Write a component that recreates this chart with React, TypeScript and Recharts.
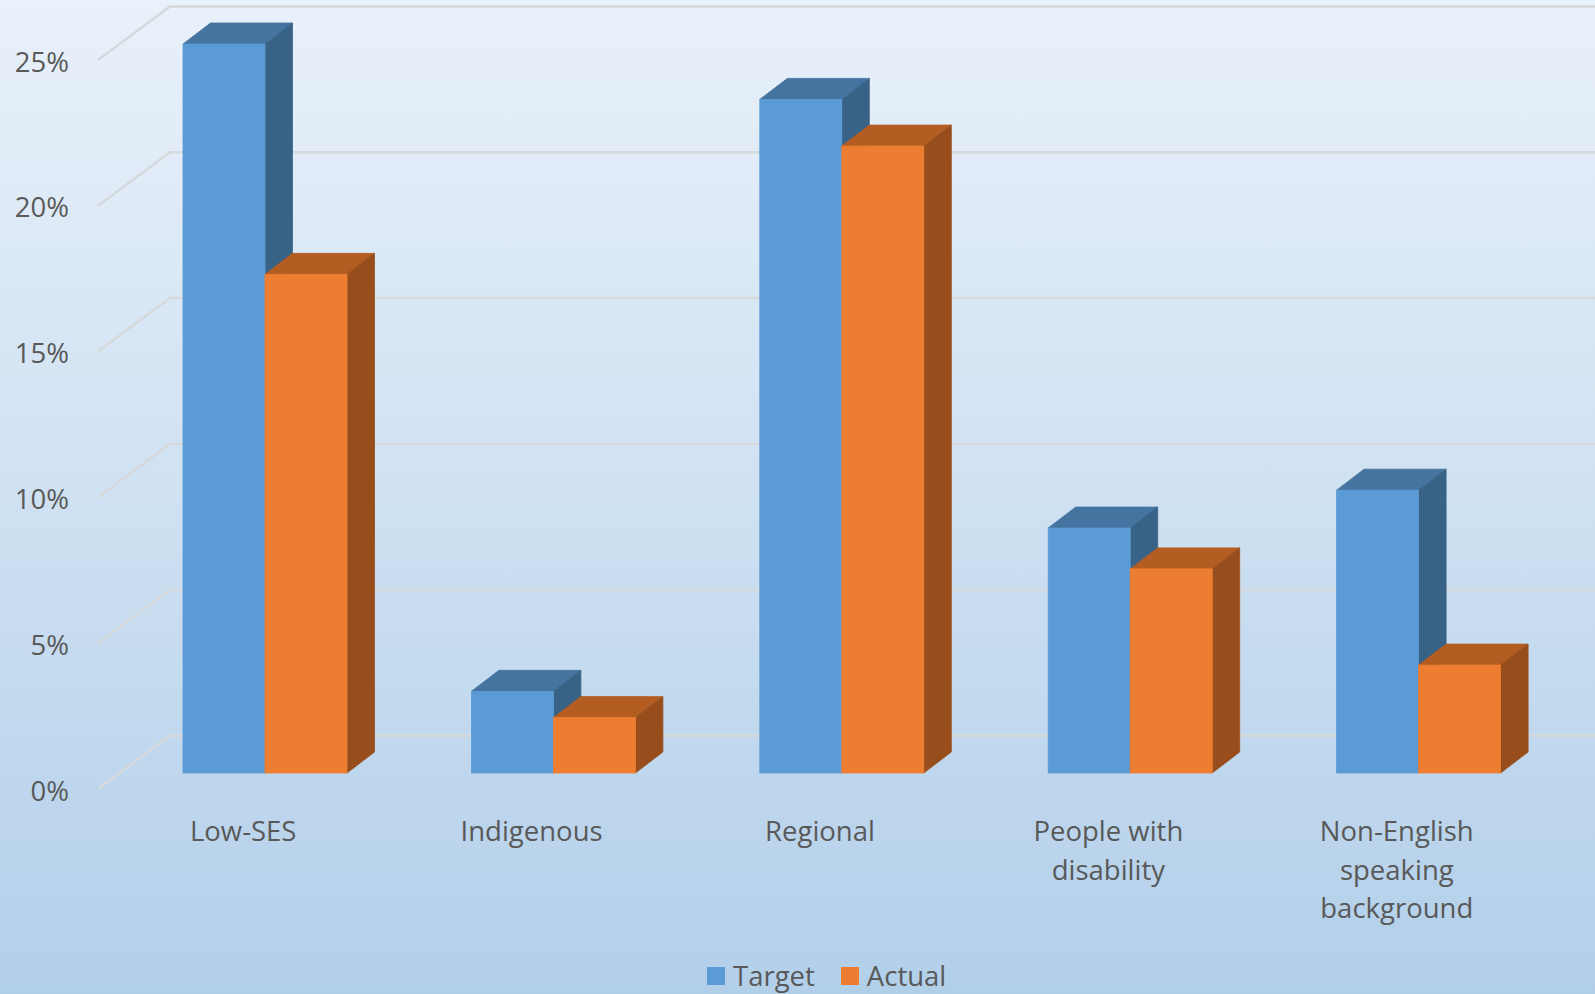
import { BarChart, Bar, XAxis, YAxis, CartesianGrid } from 'recharts'

const categories = ['Low-SES', 'Indigenous', 'Regional', 'People with disability', 'Non-English speaking background']
const categoryLines: Record<string, string[]> = {
  'Low-SES': ['Low-SES'],
  Indigenous: ['Indigenous'],
  Regional: ['Regional'],
  'People with disability': ['People with', 'disability'],
  'Non-English speaking background': ['Non-English', 'speaking', 'background'],
}
const targetValues = [0.25, 0.028, 0.231, 0.084, 0.097]
const actualValues = [0.171, 0.019, 0.215, 0.07, 0.037]
const yTicks = [0, 0.05, 0.1, 0.15, 0.2, 0.25]

const data = categories.map((name, i) => ({ name, target: targetValues[i], actual: actualValues[i] }))

const FONT = '"Open Sans", sans-serif'
const TEXT = '#595959'
const DX = 27.5
const DY = 21

const make3D = (front: string, top: string, side: string) => (props: any) => {
  const { x, y, width, height } = props
  if (height == null || height <= 0) return <g />
  const r = x + width
  const b = y + height
  return (
    <g>
      <polygon points={`${x},${y} ${x + DX},${y - DY} ${r + DX},${y - DY} ${r},${y}`} fill={top} stroke={top} strokeWidth={0.8} />
      <polygon points={`${r},${y} ${r + DX},${y - DY} ${r + DX},${b - DY} ${r},${b}`} fill={side} stroke={side} strokeWidth={0.8} />
      <rect x={x} y={y} width={width} height={height} fill={front} stroke={front} strokeWidth={0.8} />
    </g>
  )
}

const TargetShape = make3D('#5b9bd5', '#44749f', '#386387')
const ActualShape = make3D('#ed7d31', '#b45d22', '#984e1c')

const GridLine = (props: any) => {
  const { y1 } = props
  return (
    <polyline
      points={`98,${y1 + 16} 170,${y1 - 37.5} 1595,${y1 - 37.5}`}
      fill="none"
      stroke="#d6d9dc"
      strokeWidth={2.5}
    />
  )
}

const YTick = (props: any) => {
  const { y, payload } = props
  return (
    <text x={69} y={y + 27.5} textAnchor="end" fontFamily={FONT} fontSize={27.5} fill={TEXT}>
      {`${Math.round(payload.value * 100)}%`}
    </text>
  )
}

const XTick = (props: any) => {
  const { x, payload } = props
  const lines = categoryLines[payload.value] ?? [payload.value]
  return (
    <text textAnchor="middle" fontFamily={FONT} fontSize={27.5} fill={TEXT}>
      {lines.map((l, i) => (
        <tspan key={i} x={x - 22} y={841 + i * 38.6}>
          {l}
        </tspan>
      ))}
    </text>
  )
}

export default function App() {
  return (
    <div
      style={{
        position: 'absolute',
        left: 0,
        top: 0,
        width: 1595,
        height: 994,
        background: 'linear-gradient(to bottom, #e9f1fa 0%, #cfe1f2 50%, #b2cfea 100%)',
        fontFamily: FONT,
        overflow: 'hidden',
      }}
    >
      <BarChart
        width={1595}
        height={994}
        data={data}
        margin={{ top: 44, right: 32, left: 0, bottom: 71 }}
        barSize={82}
        barGap={0}
      >
        <CartesianGrid vertical={false} horizontal={GridLine} />
        <XAxis dataKey="name" height={150} axisLine={false} tickLine={false} tick={XTick} interval={0} />
        <YAxis
          width={121}
          domain={[0, 0.25]}
          ticks={yTicks}
          axisLine={false}
          tickLine={false}
          tick={YTick}
        />
        <Bar dataKey="target" shape={TargetShape} isAnimationActive={false} />
        <Bar dataKey="actual" shape={ActualShape} isAnimationActive={false} />
      </BarChart>
      <div
        style={{
          position: 'absolute',
          left: 707,
          top: 958,
          display: 'flex',
          alignItems: 'center',
          fontSize: 27.5,
          color: TEXT,
          lineHeight: '36px',
        }}
      >
        <span style={{ width: 18, height: 18, background: '#5b9bd5', display: 'inline-block', marginRight: 8 }} />
        <span style={{ marginRight: 26 }}>Target</span>
        <span style={{ width: 18, height: 18, background: '#ed7d31', display: 'inline-block', marginRight: 8 }} />
        <span>Actual</span>
      </div>
    </div>
  )
}
